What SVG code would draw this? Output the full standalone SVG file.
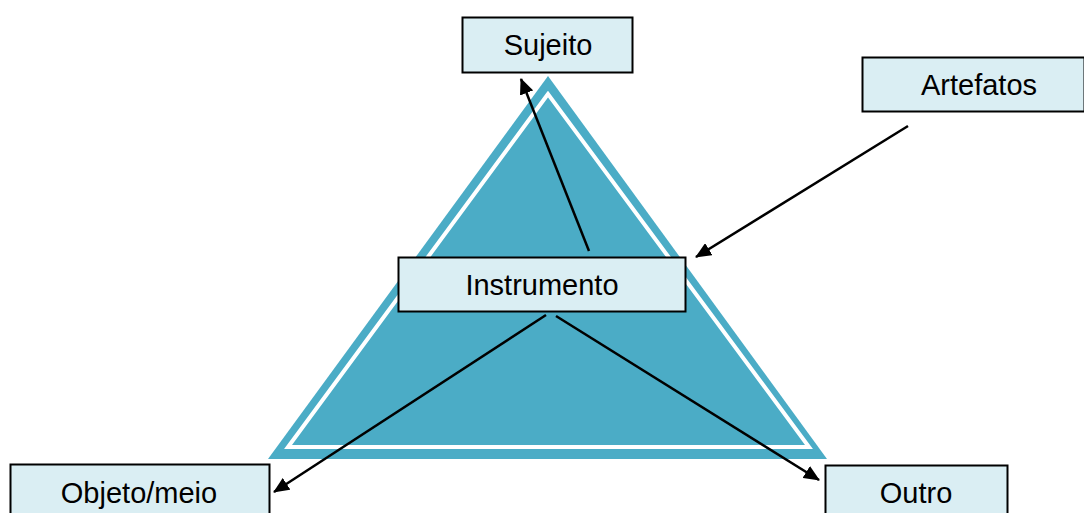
<svg xmlns="http://www.w3.org/2000/svg" width="1084" height="513" viewBox="0 0 1084 513">
<defs>
<style>
.box{fill:#DAEEF3;stroke:#000;stroke-width:2}
.lbl{font-family:"Liberation Sans",Arial,sans-serif;font-size:29px;fill:#000;text-anchor:middle}
.conn{stroke:#000;stroke-width:2.5;fill:none;marker-end:url(#ah)}
</style>
<marker id="ah" markerWidth="16" markerHeight="14" refX="15" refY="7" orient="auto" markerUnits="userSpaceOnUse" viewBox="0 0 16 14">
<path d="M0,0 L16,7 L0,14 Z" fill="#000"/>
</marker>
</defs>
<rect width="1084" height="513" fill="#fff"/>
<g id="triangle">
<polygon points="548,76 268,459 827,459" fill="#4BACC6"/>
<polygon points="548,94 288,447 809,447" fill="#4BACC6" stroke="#fff" stroke-width="4"/>
</g>
<g id="sujeito">
<rect class="box" x="462.5" y="17.5" width="170" height="55"/>
<text class="lbl" x="548" y="55">Sujeito</text>
</g>
<g id="artefatos">
<rect class="box" x="862.5" y="57.5" width="222" height="54"/>
<text class="lbl" x="979" y="95">Artefatos</text>
</g>
<g id="objeto">
<rect class="box" x="10.5" y="464.5" width="259" height="60"/>
<text class="lbl" x="139" y="503">Objeto/meio</text>
</g>
<g id="outro">
<rect class="box" x="825.5" y="465.5" width="182" height="60"/>
<text class="lbl" x="916" y="503">Outro</text>
</g>
<g id="connectors">
<line class="conn" x1="589" y1="251" x2="521" y2="79"/>
<line class="conn" x1="908" y1="126" x2="696" y2="257"/>
<line class="conn" x1="546" y1="315" x2="274" y2="492"/>
<line class="conn" x1="556" y1="316" x2="819" y2="480"/>
</g>
<g id="instrumento">
<rect class="box" x="398.5" y="257.5" width="287" height="54"/>
<text class="lbl" x="542" y="295">Instrumento</text>
</g>
</svg>
